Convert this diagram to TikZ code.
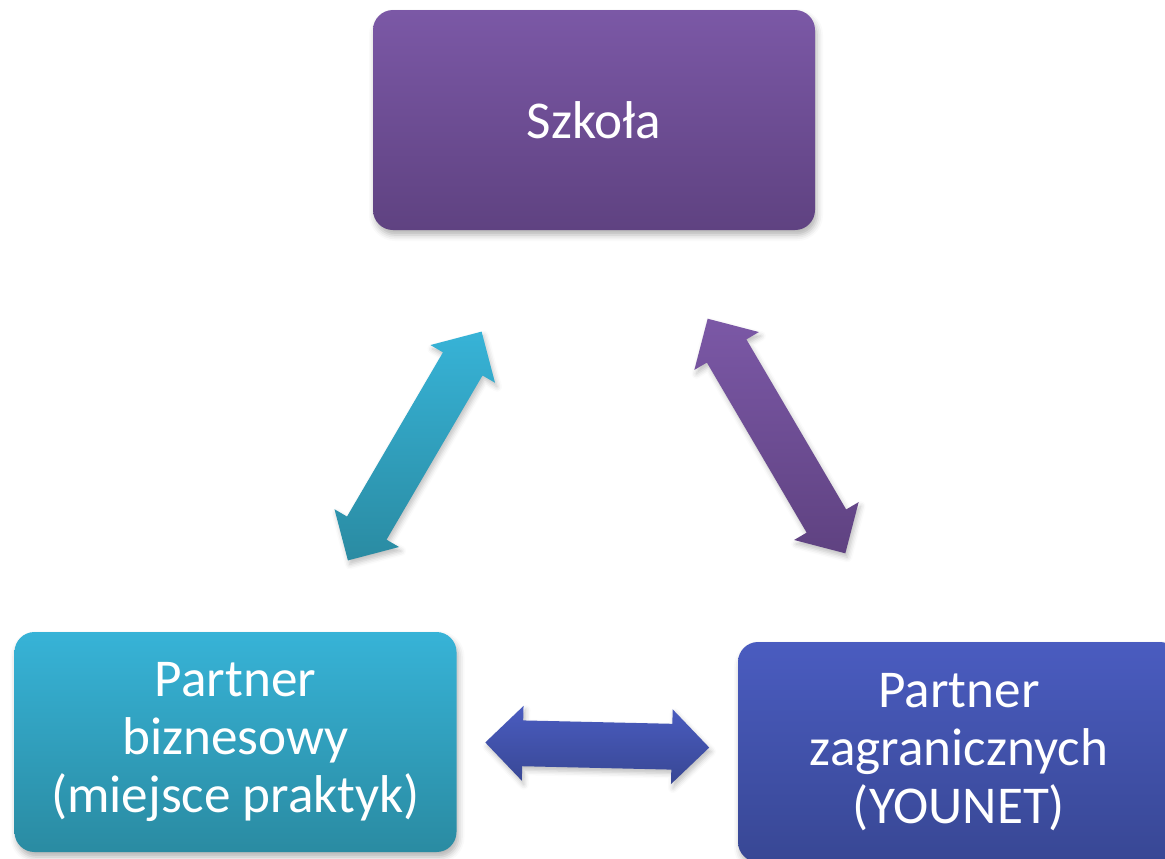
\documentclass[tikz,border=0pt]{standalone}
\usepackage{fontspec}
\setmainfont{Carlito}
\usetikzlibrary{shapes.arrows,shadows.blur,calc}
\definecolor{szkolaTop}{HTML}{7B58A6}
\definecolor{szkolaBot}{HTML}{5F4281}
\definecolor{biznesTop}{HTML}{37B3D7}
\definecolor{biznesBot}{HTML}{2A8BA2}
\definecolor{zagrTop}{HTML}{4A5CC0}
\definecolor{zagrBot}{HTML}{384794}
\begin{document}
\begin{tikzpicture}[x=0.5pt,y=-0.5pt]
	\useasboundingbox (0,0) rectangle (1165,858);
	\begin{scope}[every node/.style={font=\fontsize{26.6}{29}\selectfont,text=white,align=center}]
		\tikzstyle{box}=[rounded corners=10pt,minimum width=221pt,minimum height=110pt,blur shadow={shadow xshift=1pt,shadow yshift=-2.5pt,shadow blur radius=3pt,shadow opacity=30}];
		\tikzstyle{link}=[double arrow,double arrow head extend=7.25pt,inner sep=11.25pt,blur shadow={shadow xshift=1pt,shadow yshift=-2pt,shadow blur radius=2.5pt,shadow opacity=25}];
		\path (594,120)   node (szkola) [box,top color=szkolaTop,bottom color=szkolaBot] {Szkoła};
		\path (235.5,742) node (biznes) [box,top color=biznesTop,bottom color=biznesBot] {Partner\\biznesowy\\(miejsce praktyk)};
		\path (959,752)   node (zagr)   [box,top color=zagrTop,bottom color=zagrBot] {Partner\\zagranicznych\\(YOUNET)};
		\path ($(szkola.south west)!.5!(biznes.north east)+(0,15)$) node (lewa)  [link,minimum height=132.5pt,rotate=59.7,top color=biznesTop,bottom color=biznesBot] {};
		\path ($(szkola.south east)!.5!(zagr.north west)$)          node (prawa) [link,minimum height=136pt,rotate=-59.6,top color=szkolaTop,bottom color=szkolaBot] {};
		\path ($(biznes.east)!.5!(zagr.west)+(0,-2)$)               node (dol)   [link,minimum height=112pt,rotate=-1.3,top color=zagrTop,bottom color=zagrBot] {};
	\end{scope}
\end{tikzpicture}
\end{document}
